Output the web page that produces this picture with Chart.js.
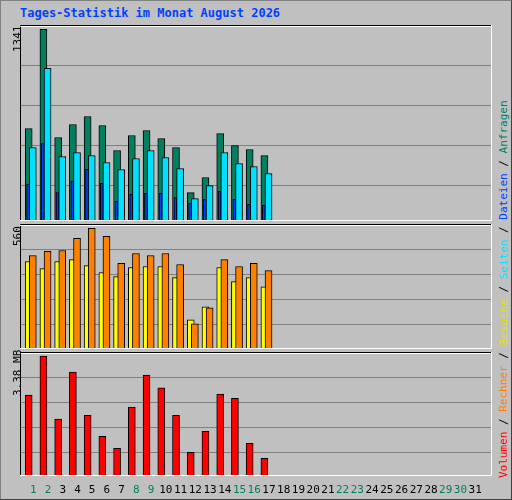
<!DOCTYPE html>
<html><head><meta charset="utf-8">
<script src="https://cdn.jsdelivr.net/npm/chart.js@4"></script>
<style>
html,body{margin:0;padding:0;}
body{width:512px;height:500px;background:#c0c0c0;position:relative;overflow:hidden;font-family:"DejaVu Sans Mono",monospace;}
#frame{position:absolute;left:0;top:0;width:510px;height:498px;border:1px solid #808080;border-right-color:#404040;border-bottom-color:#404040;}
#title{position:absolute;left:20px;top:6px;font:bold 12px "DejaVu Sans Mono",monospace;color:#0040ff;}
canvas{position:absolute;}
.ylab{position:absolute;font:11px "DejaVu Sans Mono",monospace;color:#000;transform-origin:0 0;transform:rotate(-90deg);white-space:nowrap;}
#legend{position:absolute;left:497px;top:478px;transform-origin:0 0;transform:rotate(-90deg);white-space:nowrap;font:11px "DejaVu Sans Mono",monospace;}
</style></head><body>
<div id="frame"></div>
<div id="title">Tages-Statistik im Monat August 2026</div>
<canvas id="c1" width="472" height="196" style="left:20px;top:25px"></canvas>
<canvas id="c2" width="472" height="125" style="left:20px;top:224px"></canvas>
<canvas id="c3" width="472" height="146" style="left:20px;top:352px"></canvas>
<div class="ylab" style="left:11px;top:52px">1341</div>
<div class="ylab" style="left:11px;top:246px">560</div>
<div class="ylab" style="left:11px;top:396px">3.38 MB</div>
<div id="legend"><span style="color:#ff0000">Volumen</span> / <span style="color:#ff8000">Rechner</span> / <span style="color:#e0e000">Besuche</span> / <span style="color:#00e0ff">Seiten</span> / <span style="color:#0040ff">Dateien</span> / <span style="color:#008060">Anfragen</span></div>
<script>
const days = Array.from({length:31},(_,i)=>String(i+1));
const weekendDays = [1,2,8,9,15,16,22,23,29,30];
const hits   = [647,1341,584,675,731,668,493,598,633,577,514,199,304,612,528,500,458];
const files  = [257,542,199,278,362,264,138,187,194,194,164,124,152,208,152,117,110];
const pages  = [514,1068,451,479,458,409,360,437,493,444,367,157,248,479,402,381,332];
const visits = [406,373,406,415,387,355,336,378,383,383,331,135,196,378,313,331,289];
const sites  = [434,453,457,513,560,523,397,443,434,443,392,117,191,415,383,397,364];
const kbytesMB = [2.28,3.38,1.60,2.93,1.71,1.12,0.78,1.94,2.84,2.48,1.71,0.67,1.26,2.31,2.19,0.92,0.50];
const maxHits = 1341, maxSites = 560, maxMB = 3.38;

function pts(arr, off){ return arr.map((v,i)=>({x:i+1+off, y:v})); }
function ds(arr, off, color, w, order){
  return {data:pts(arr,off), backgroundColor:color, borderColor:'#000', borderWidth:1,
    borderSkipped:false, barThickness:w, order:order, grouped:false};
}
const framePlugin = (step)=>({id:'frame', beforeDatasetsDraw(c){
  const a=c.chartArea, g=c.ctx; g.save(); g.strokeStyle='#808080'; g.lineWidth=1;
  for(let y=a.top+step; y<a.bottom-5; y+=step){ g.beginPath(); g.moveTo(a.left,Math.round(y)+0.5); g.lineTo(a.right,Math.round(y)+0.5); g.stroke(); }
  g.restore();
}, afterDraw(c){
  const a=c.chartArea, g=c.ctx; g.save(); g.lineWidth=1;
  g.strokeStyle='#000'; g.beginPath(); g.moveTo(a.left+0.5,a.bottom); g.lineTo(a.left+0.5,a.top+0.5); g.lineTo(a.right,a.top+0.5); g.stroke();
  g.strokeStyle='#fff'; g.beginPath(); g.moveTo(a.left,a.top+1.5); g.lineTo(a.right-1.5,a.top+1.5); g.moveTo(a.right-0.5,a.top); g.lineTo(a.right-0.5,a.bottom-0.5); g.lineTo(a.left,a.bottom-0.5); g.stroke();
  g.restore();
}});
function mk(id, datasets, ymax, step, showX){
  const x = {type:'linear', min:0.1, max:32.14, offset:false, display:showX,
    grid:{display:false, drawTicks:false}, border:{display:false},
    afterBuildTicks:s=>{ s.ticks = days.map((d,i)=>({value:i+1})); },
    ticks:{autoSkip:false, maxRotation:0, padding:8,
      font:{family:'DejaVu Sans Mono', size:11},
      color:ctx=>weekendDays.includes(ctx.tick.value)?'#008060':'#000',
      callback:v=>days[v-1]}};
  if(showX) x.afterFit = s=>{ s.height=22; s.paddingLeft=0; s.paddingRight=0; };
  new Chart(document.getElementById(id), {type:'bar', data:{datasets},
    options:{responsive:false, animation:false, devicePixelRatio:1,
      layout:{padding:0},
      plugins:{legend:{display:false}, tooltip:{enabled:false}},
      scales:{ x, y:{display:false, min:0, max:ymax} }},
    plugins:[framePlugin(step)]});
}
mk('c1', [ds(hits,-0.31,'#008060',7,3), ds(files,-0.35,'#0040ff',3,2), ds(pages,-0.03,'#00e0ff',7,1)], maxHits*195.7/191.4, 40, false);
mk('c2', [ds(visits,-0.31,'#ffff00',7,2), ds(sites,-0.03,'#ff8000',7,1)], maxSites*124.3/120, 25, false);
mk('c3', [ds(kbytesMB,-0.31,'#ff0000',7,1)], maxMB*124/120, 25, true);
</script>
</body></html>
